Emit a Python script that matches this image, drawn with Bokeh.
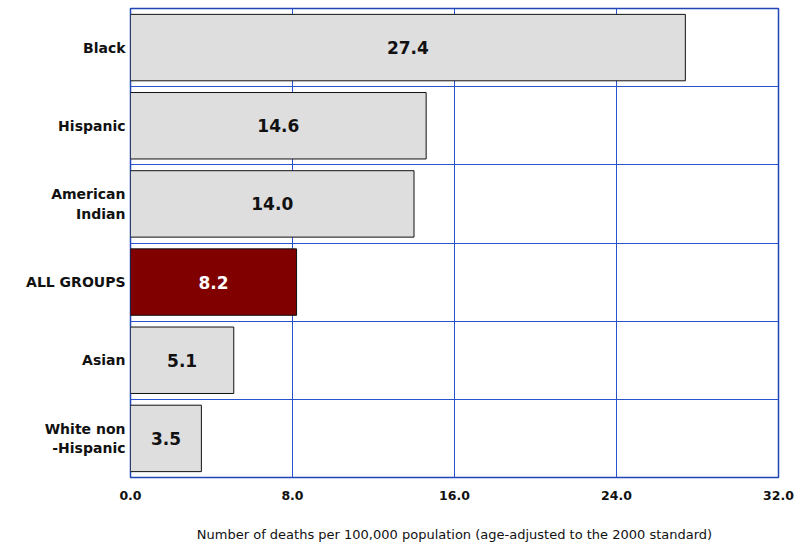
from bokeh.plotting import figure
from bokeh.models import ColumnDataSource, FixedTicker, Range1d
from bokeh.embed import file_html
from bokeh.resources import INLINE
from bokeh.core.properties import value

categories = ["Black", "Hispanic", "American\nIndian", "ALL GROUPS", "Asian", "White non\n-Hispanic"]
rates = [27.4, 14.6, 14.0, 8.2, 5.1, 3.5]
value_labels = ["27.4", "14.6", "14.0", "8.2", "5.1", "3.5"]
x_ticks = [0, 8, 16, 24, 32]
x_tick_labels = ["0.0", "8.0", "16.0", "24.0", "32.0"]

n = len(categories)
ypos = [n - 1 - i + 0.5 for i in range(n)]
fills = ["#800000" if c == "ALL GROUPS" else "#DEDEDE" for c in categories]
tcolors = ["white" if c == "ALL GROUPS" else "#111111" for c in categories]

src = ColumnDataSource(dict(y=ypos, v=rates, mid=[r / 2 for r in rates],
                            lab=value_labels, fill=fills, tc=tcolors))

p = figure(width=797, height=544, output_backend="svg", toolbar_location=None,
           x_range=Range1d(0, 32), y_range=Range1d(0, n),
           min_border_left=130, min_border_right=19, min_border_top=8, min_border_bottom=67)

p.hbar(y="y", left=0, right="v", height=0.85, source=src, fill_color="fill",
       line_color="#111111", line_width=1)
p.text(x="mid", y="y", text="lab", source=src, text_color="tc",
       text_align="center", text_baseline="middle",
       text_font=value("DejaVu Sans"), text_font_style="bold", text_font_size="17px")

blue = "#2A52CC"
p.outline_line_color = "#1F45B8"
p.outline_line_width = 1.5
p.xgrid.ticker = FixedTicker(ticks=x_ticks)
p.ygrid.ticker = FixedTicker(ticks=list(range(1, n)))
p.xgrid.grid_line_color = blue
p.ygrid.grid_line_color = blue
p.xgrid.grid_line_width = 1
p.ygrid.grid_line_width = 1

p.xaxis.ticker = FixedTicker(ticks=x_ticks)
p.xaxis.major_label_overrides = {t: l for t, l in zip(x_ticks, x_tick_labels)}
p.yaxis.ticker = FixedTicker(ticks=ypos)
p.yaxis.major_label_overrides = {y: c for y, c in zip(ypos, categories)}

for ax in (p.xaxis[0], p.yaxis[0]):
    ax.axis_line_color = None
    ax.major_tick_line_color = None
    ax.minor_tick_line_color = None
    ax.major_tick_out = 0
    ax.minor_tick_out = 0
    ax.major_label_text_font = "DejaVu Sans"
    ax.major_label_text_font_style = "bold"
    ax.major_label_text_color = "#111111"

p.yaxis.major_label_text_font_size = "14px"
p.yaxis.major_label_standoff = 5
p.xaxis.major_label_text_font_size = "12.5px"
p.xaxis.major_label_standoff = 13
p.xaxis.axis_label = "Number of deaths per 100,000 population (age-adjusted to the 2000 standard)"
p.xaxis.axis_label_text_font = "DejaVu Sans"
p.xaxis.axis_label_text_font_style = "normal"
p.xaxis.axis_label_text_font_size = "13px"
p.xaxis.axis_label_text_color = "#111111"
p.xaxis.axis_label_standoff = 24

open("out.html", "w").write(file_html(p, INLINE))
